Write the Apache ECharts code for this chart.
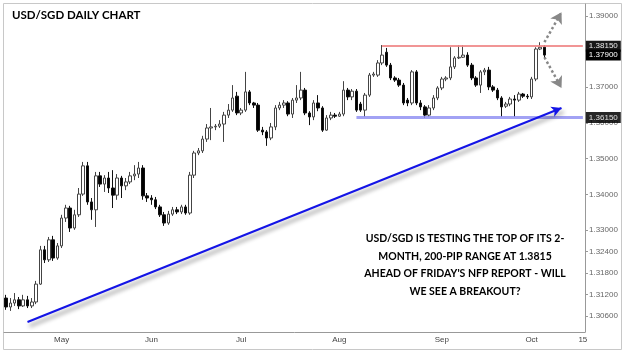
<!DOCTYPE html>
<html>
<head>
<meta charset="utf-8">
<title>USD/SGD Daily Chart</title>
<script src="https://cdn.jsdelivr.net/npm/echarts@6.0.0/dist/echarts.min.js"></script>
<style>
html, body { margin: 0; padding: 0; background: #fff; }
#chart { width: 624px; height: 352px; }
</style>
</head>
<body>
<div id="chart"></div>
<script>
// daily candles, oldest first
var opens = [
    1.3110, 1.3085, 1.3096, 1.3105, 1.3088, 1.3105, 1.3088, 1.3099, 1.3149, 1.3245,
    1.3217, 1.3273, 1.3222, 1.3256, 1.3334, 1.3362, 1.3306, 1.3343, 1.3401, 1.3480,
    1.3379, 1.3357, 1.3452, 1.3429, 1.3446, 1.3418, 1.3398, 1.3446, 1.3424, 1.3435,
    1.3452, 1.3457, 1.3474, 1.3396, 1.3390, 1.3385, 1.3365, 1.3343, 1.3320, 1.3345,
    1.3357, 1.3351, 1.3365, 1.3348, 1.3454, 1.3516, 1.3522, 1.3555, 1.3586, 1.3589,
    1.3591, 1.3597, 1.3622, 1.3636, 1.3675, 1.3628, 1.3636, 1.3687, 1.3656, 1.3650,
    1.3580, 1.3575, 1.3558, 1.3589, 1.3642, 1.3650, 1.3656, 1.3625, 1.3664, 1.3670,
    1.3692, 1.3628, 1.3617, 1.3656, 1.3642, 1.3580, 1.3614, 1.3622, 1.3619, 1.3625,
    1.3692, 1.3673, 1.3689, 1.3653, 1.3636, 1.3678, 1.3734, 1.3734, 1.3768, 1.3798,
    1.3762, 1.3726, 1.3720, 1.3706, 1.3664, 1.3656, 1.3743, 1.3656, 1.3645, 1.3622,
    1.3642, 1.3670, 1.3698, 1.3723, 1.3726, 1.3757, 1.3782, 1.3784, 1.3790, 1.3762,
    1.3726, 1.3706, 1.3743, 1.3748, 1.3701, 1.3692, 1.3670, 1.3647, 1.3653, 1.3667,
    1.3664, 1.3681, 1.3675, 1.3673, 1.3723, 1.3807, 1.3812
];
var closes = [
    1.3085, 1.3096, 1.3105, 1.3088, 1.3105, 1.3088, 1.3099, 1.3149, 1.3245, 1.3217,
    1.3273, 1.3222, 1.3256, 1.3334, 1.3362, 1.3306, 1.3343, 1.3401, 1.3480, 1.3379,
    1.3357, 1.3452, 1.3429, 1.3446, 1.3418, 1.3398, 1.3446, 1.3424, 1.3435, 1.3452,
    1.3457, 1.3474, 1.3396, 1.3390, 1.3385, 1.3365, 1.3343, 1.3320, 1.3345, 1.3357,
    1.3351, 1.3365, 1.3348, 1.3454, 1.3516, 1.3522, 1.3555, 1.3586, 1.3589, 1.3591,
    1.3597, 1.3622, 1.3636, 1.3670, 1.3628, 1.3636, 1.3687, 1.3656, 1.3650, 1.3580,
    1.3575, 1.3558, 1.3589, 1.3642, 1.3650, 1.3656, 1.3625, 1.3664, 1.3670, 1.3692,
    1.3628, 1.3617, 1.3656, 1.3642, 1.3580, 1.3614, 1.3622, 1.3619, 1.3625, 1.3692,
    1.3673, 1.3689, 1.3636, 1.3636, 1.3678, 1.3734, 1.3737, 1.3768, 1.3790, 1.3762,
    1.3726, 1.3720, 1.3706, 1.3656, 1.3656, 1.3743, 1.3656, 1.3645, 1.3622, 1.3642,
    1.3670, 1.3698, 1.3723, 1.3726, 1.3757, 1.3782, 1.3784, 1.3790, 1.3762, 1.3726,
    1.3706, 1.3743, 1.3748, 1.3701, 1.3692, 1.3670, 1.3645, 1.3653, 1.3667, 1.3664,
    1.3681, 1.3675, 1.3673, 1.3723, 1.3807, 1.3812, 1.3790
];
var lows = [
    1.3077, 1.3074, 1.3088, 1.3079, 1.3085, 1.3082, 1.3082, 1.3093, 1.3147, 1.3208,
    1.3211, 1.3214, 1.3217, 1.3250, 1.3323, 1.3295, 1.3301, 1.3337, 1.3396, 1.3371,
    1.3329, 1.3309, 1.3421, 1.3407, 1.3404, 1.3362, 1.3385, 1.3390, 1.3412, 1.3429,
    1.3440, 1.3446, 1.3385, 1.3379, 1.3371, 1.3359, 1.3337, 1.3312, 1.3315, 1.3340,
    1.3345, 1.3345, 1.3343, 1.3343, 1.3446, 1.3510, 1.3516, 1.3547, 1.3552, 1.3580,
    1.3586, 1.3547, 1.3614, 1.3631, 1.3622, 1.3622, 1.3631, 1.3650, 1.3642, 1.3575,
    1.3566, 1.3536, 1.3552, 1.3580, 1.3636, 1.3642, 1.3619, 1.3614, 1.3656, 1.3664,
    1.3622, 1.3594, 1.3608, 1.3633, 1.3575, 1.3578, 1.3608, 1.3614, 1.3617, 1.3619,
    1.3664, 1.3664, 1.3631, 1.3631, 1.3617, 1.3673, 1.3729, 1.3729, 1.3762, 1.3757,
    1.3720, 1.3715, 1.3701, 1.3650, 1.3647, 1.3650, 1.3650, 1.3636, 1.3614, 1.3617,
    1.3636, 1.3664, 1.3692, 1.3717, 1.3720, 1.3751, 1.3779, 1.3782, 1.3757, 1.3720,
    1.3701, 1.3684, 1.3734, 1.3692, 1.3687, 1.3664, 1.3617, 1.3642, 1.3647, 1.3617,
    1.3659, 1.3670, 1.3667, 1.3667, 1.3717, 1.3804, 1.3779
];
var highs = [
    1.3119, 1.3110, 1.3124, 1.3113, 1.3119, 1.3116, 1.3110, 1.3158, 1.3256, 1.3256,
    1.3281, 1.3284, 1.3264, 1.3343, 1.3371, 1.3368, 1.3357, 1.3418, 1.3491, 1.3491,
    1.3390, 1.3463, 1.3463, 1.3454, 1.3463, 1.3468, 1.3457, 1.3452, 1.3446, 1.3463,
    1.3482, 1.3491, 1.3482, 1.3404, 1.3398, 1.3393, 1.3371, 1.3351, 1.3354, 1.3365,
    1.3365, 1.3371, 1.3371, 1.3463, 1.3522, 1.3530, 1.3564, 1.3597, 1.3642, 1.3597,
    1.3608, 1.3631, 1.3653, 1.3706, 1.3687, 1.3642, 1.3743, 1.3692, 1.3659, 1.3656,
    1.3589, 1.3580, 1.3600, 1.3650, 1.3659, 1.3664, 1.3661, 1.3670, 1.3706, 1.3743,
    1.3698, 1.3633, 1.3664, 1.3678, 1.3647, 1.3622, 1.3631, 1.3628, 1.3631, 1.3717,
    1.3698, 1.3695, 1.3695, 1.3659, 1.3684, 1.3740, 1.3743, 1.3776, 1.3818, 1.3810,
    1.3768, 1.3731, 1.3726, 1.3712, 1.3670, 1.3748, 1.3748, 1.3664, 1.3650, 1.3650,
    1.3678, 1.3703, 1.3729, 1.3731, 1.3812, 1.3787, 1.3818, 1.3818, 1.3798, 1.3768,
    1.3731, 1.3748, 1.3754, 1.3757, 1.3706, 1.3698, 1.3675, 1.3659, 1.3673, 1.3678,
    1.3687, 1.3684, 1.3681, 1.3729, 1.3812, 1.3826, 1.3818
];

// one slot per trading day, some empty slots after the last candle
var slotCount = 136;
var monthTicks = {13: 'May', 34: 'Jun', 55: 'Jul', 78: 'Aug', 102: 'Sep', 123: 'Oct', 135: '15'};
var priceTicks = [1.306, 1.312, 1.318, 1.324, 1.33, 1.34, 1.35, 1.36, 1.37, 1.39];

// drawn levels and annotation lines: [slot, price]
var resistance = 1.3815;
var support = 1.3615;
var lastClose = 1.3790;
var trendLine = [[5, 1.3043], [130, 1.3642]];
var upArrow = [[126, 1.3826], [130, 1.3910]];
var downArrow = [[126, 1.3784], [130, 1.3698]];

var noteLines = [
    "USD/SGD IS TESTING THE TOP OF ITS 2-",
    "MONTH, 200-PIP RANGE AT 1.3815",
    "AHEAD OF FRIDAY'S NFP REPORT - WILL",
    "WE SEE A BREAKOUT?"
];

function showChart() {
    var myChart = echarts.init(document.getElementById('chart'));

    var slots = [];
    for (var i = 0; i < slotCount; i++) {
        slots.push(String(i));
    }
    var candles = [];
    for (var j = 0; j < opens.length; j++) {
        candles.push([opens[j], closes[j], lows[j], highs[j]]);
    }

    function hasTick(index) {
        return monthTicks[index] !== undefined;
    }

    var priceBox = {
        show: true,
        position: 'end',
        distance: 3,
        color: '#fff',
        backgroundColor: '#000',
        fontFamily: 'Liberation Sans',
        fontSize: 8,
        padding: [2, 3, 1, 3]
    };

    myChart.setOption({
        animation: false,
        backgroundColor: '#fff',
        grid: {
            left: 4,
            right: 39,
            top: 4,
            bottom: 20
        },
        xAxis: {
            type: 'category',
            data: slots,
            boundaryGap: true,
            axisLine: {lineStyle: {color: '#999'}},
            axisTick: {
                alignWithLabel: true,
                interval: hasTick,
                length: 3,
                lineStyle: {color: '#999'}
            },
            axisLabel: {
                interval: hasTick,
                formatter: function (value, index) {
                    return monthTicks[index] || '';
                },
                fontFamily: 'Liberation Sans',
                fontSize: 8,
                color: '#444',
                margin: 4
            },
            splitLine: {show: false}
        },
        yAxis: {
            type: 'value',
            position: 'right',
            min: 1.3015,
            max: 1.3933,
            axisLine: {show: true, lineStyle: {color: '#999'}},
            axisTick: {
                show: true,
                customValues: priceTicks,
                length: 3,
                lineStyle: {color: '#999'}
            },
            axisLabel: {
                customValues: priceTicks,
                formatter: function (v) { return v.toFixed(5); },
                fontFamily: 'Liberation Sans',
                fontSize: 8,
                color: '#666',
                margin: 4
            },
            splitLine: {show: false}
        },
        series: [{
            type: 'candlestick',
            data: candles,
            barWidth: 3,
            itemStyle: {
                color: '#fff',
                color0: '#000',
                borderColor: '#444',
                borderColor0: '#111',
                borderWidth: 1
            },
            markLine: {
                silent: true,
                symbol: ['none', 'none'],
                label: {show: false},
                data: [
                    [{
                        coord: [88, resistance],
                        lineStyle: {color: '#ef8a8a', width: 2, type: 'solid', opacity: 0.9},
                        label: echarts.util.extend({formatter: '1.38150'}, priceBox)
                    }, {coord: [slotCount - 1, resistance]}],
                    [{
                        coord: [126, lastClose],
                        lineStyle: {color: 'rgba(0,0,0,0)', width: 1},
                        label: echarts.util.extend({formatter: '1.37900'}, priceBox)
                    }, {coord: [slotCount - 1, lastClose]}],
                    [{
                        coord: [82, support],
                        lineStyle: {color: '#9292f2', width: 3, type: 'solid', opacity: 0.85},
                        label: echarts.util.extend({formatter: '1.36150'}, priceBox)
                    }, {coord: [slotCount - 1, support]}],
                    [{
                        coord: trendLine[0],
                        lineStyle: {
                            color: '#1414e6', width: 2, type: 'solid',
                            shadowColor: 'rgba(0,0,0,0.45)', shadowBlur: 4,
                            shadowOffsetX: 2, shadowOffsetY: 4
                        }
                    }, {coord: trendLine[1], symbol: 'arrow', symbolSize: [8, 10]}],
                    [{
                        coord: upArrow[0],
                        lineStyle: {color: '#888', width: 2.5, type: 'dotted'}
                    }, {coord: upArrow[1], symbol: 'arrow', symbolSize: [10, 11]}],
                    [{
                        coord: downArrow[0],
                        lineStyle: {color: '#888', width: 2.5, type: 'dotted'}
                    }, {coord: downArrow[1], symbol: 'arrow', symbolSize: [10, 11]}]
                ]
            }
        }],
        graphic: [{
            type: 'rect',
            silent: true,
            shape: {x: 3.5, y: 3.5, width: 618, height: 346},
            style: {fill: 'none', stroke: '#c8c8c8', lineWidth: 1}
        }, {
            type: 'text',
            silent: true,
            style: {
                text: 'USD/SGD DAILY CHART',
                x: 12,
                y: 15,
                textVerticalAlign: 'middle',
                fontFamily: 'Lato',
                fontWeight: 'bold',
                fontSize: 11.5,
                fill: '#000'
            }
        }, {
            type: 'text',
            silent: true,
            style: {
                text: noteLines.join('\n'),
                x: 465,
                y: 230,
                textAlign: 'center',
                textVerticalAlign: 'top',
                fontFamily: 'Lato',
                fontWeight: 'bold',
                fontSize: 10.5,
                lineHeight: 17.5,
                fill: '#000'
            }
        }]
    });
}

showChart();
</script>
</body>
</html>
